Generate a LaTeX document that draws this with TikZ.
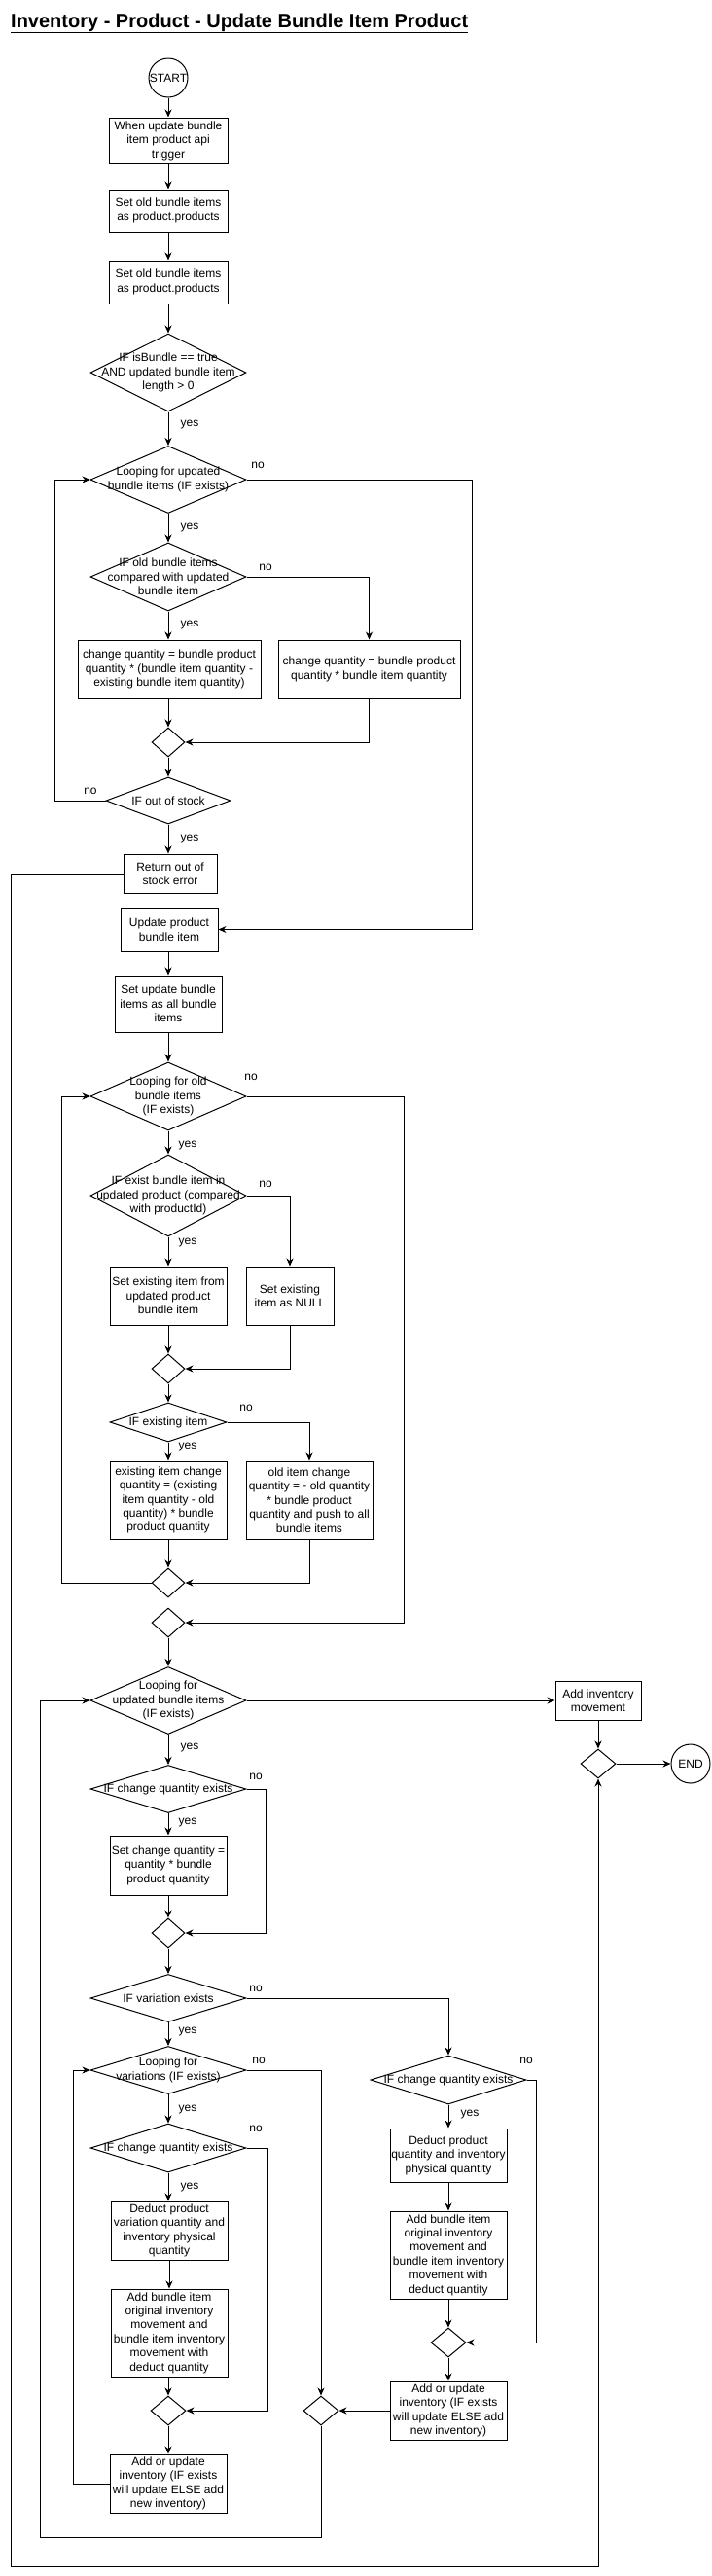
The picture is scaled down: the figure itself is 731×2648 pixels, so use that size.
\documentclass[tikz,border=0pt]{standalone}
\usepackage{fontspec}
\setmainfont{Liberation Sans}
\usetikzlibrary{shapes.geometric,arrows.meta}
\begin{document}
\begin{tikzpicture}[x=1pt,y=-1pt,
 every node/.style={font=\fontsize{12}{14.4}\selectfont},
 box/.style={draw, line width=1pt, inner sep=0pt, align=center, fill=white},
 dia/.style={draw, diamond, line width=1pt, inner sep=0pt},
 circ/.style={draw, circle, line width=1pt, inner sep=0pt, minimum size=40pt},
 txt/.style={align=center, inner sep=0pt},
 lbl/.style={inner sep=0pt},
 arr/.style={line width=1pt, -{Stealth[length=8pt,width=7pt]}},
 ln/.style={line width=1pt}]
\useasboundingbox (0,0) rectangle (731,2648);
% title
\node[anchor=base west, inner sep=0pt, font=\fontsize{20}{24}\selectfont\bfseries] (title) at (11,28) {\underline{Inventory - Product - Update Bundle Item Product}};
% helper coordinates
\coordinate (xA) at (485,0);
\coordinate (xB) at (56,0);
\coordinate (xC) at (11,0);
\coordinate (yC) at (0,2638);
\coordinate (xD) at (415,0);
\coordinate (xE) at (63,0);
\coordinate (xF) at (273,0);
\coordinate (xG) at (330,0);
\coordinate (xH) at (275,0);
\coordinate (xI) at (75,0);
\coordinate (xJ) at (551,0);
\coordinate (xK) at (41,0);
\coordinate (yK) at (0,2608);
% top part
\node[circ] (start) at (173,80) {START};
\node[box, minimum width=122pt, minimum height=47pt] (b1) at (173,144.5) {When update bundle\\item product api\\trigger};
\node[box, minimum width=122pt, minimum height=43pt] (b2) at (173,216.5) {Set old bundle items\\as product.products};
\node[box, minimum width=122pt, minimum height=44pt] (b3) at (173,290) {Set old bundle items\\as product.products};
\node[dia, minimum width=160pt, minimum height=80pt] (d1) at (173,383) {};
\node[txt] (d1t) at (d1) {IF isBundle == true\\AND updated bundle item\\length > 0};
\node[dia, minimum width=160pt, minimum height=69pt] (d2) at (173,493) {};
\node[txt] (d2t) at (d2) {Looping for updated\\bundle items (IF exists)};
\node[dia, minimum width=160pt, minimum height=70pt] (d3) at (173,593) {};
\node[txt] (d3t) at (d3) {IF old bundle items\\compared with updated\\bundle item};
\node[box, minimum width=188pt, minimum height=60pt] (b4) at (174,688) {change quantity = bundle product\\quantity * (bundle item quantity -\\existing bundle item quantity)};
\node[box, minimum width=187pt, minimum height=60pt] (b5) at (379.5,688) {change quantity = bundle product\\quantity * bundle item quantity};
\node[dia, minimum width=34pt, minimum height=30pt] (m1) at (173,763) {};
\node[dia, minimum width=128pt, minimum height=48pt] (d4) at (173,823) {};
\node[txt] (d4t) at (d4) {IF out of stock};
\node[box, minimum width=96pt, minimum height=40pt] (b6) at (175,898) {Return out of\\stock error};
\node[box, minimum width=100pt, minimum height=45pt] (b7) at (174,955.5) {Update product\\bundle item};
\node[box, minimum width=110pt, minimum height=58pt] (b8) at (173,1032) {Set update bundle\\items as all bundle\\items};
% old bundle loop
\node[dia, minimum width=160pt, minimum height=70pt] (d5) at (173,1127) {};
\node[txt] (d5t) at (d5) {Looping for old\\bundle items\\(IF exists)};
\node[dia, minimum width=160pt, minimum height=84pt] (d6) at (173,1229) {};
\node[txt] (d6t) at (d6) {IF exist bundle item in\\updated product (compared\\with productId)};
\node[box, minimum width=120pt, minimum height=60pt] (b9) at (173,1332) {Set existing item from\\updated product\\bundle item};
\node[box, minimum width=90pt, minimum height=60pt] (b10) at (298,1332) {Set existing\\item as NULL};
\node[dia, minimum width=34pt, minimum height=30pt] (m2) at (173,1407) {};
\node[dia, minimum width=120pt, minimum height=40pt] (d7) at (173,1462) {};
\node[txt] (d7t) at (d7) {IF existing item};
\node[box, minimum width=120pt, minimum height=80pt] (b11) at (173,1542) {existing item change\\quantity = (existing\\item quantity - old\\quantity) * bundle\\product quantity};
\node[box, minimum width=130pt, minimum height=80pt] (b12) at (318,1542) {old item change\\quantity = - old quantity\\* bundle product\\quantity and push to all\\bundle items};
\node[dia, minimum width=34pt, minimum height=30pt] (m3) at (173,1627) {};
\node[dia, minimum width=34pt, minimum height=30pt] (m4) at (173,1668) {};
% updated bundle loop
\node[dia, minimum width=160pt, minimum height=69pt] (d8) at (173,1748) {};
\node[txt] (d8t) at (d8) {Looping for\\updated bundle items\\(IF exists)};
\node[box, minimum width=88pt, minimum height=40pt] (b13) at (615,1748) {Add inventory\\movement};
\node[dia, minimum width=36pt, minimum height=30pt] (m5) at (615,1813) {};
\node[circ] (end) at (710,1813) {END};
\node[dia, minimum width=160pt, minimum height=49pt] (d9) at (173,1839) {};
\node[txt] (d9t) at (d9) {IF change quantity exists};
\node[box, minimum width=120pt, minimum height=61pt] (b14) at (173,1917.5) {Set change quantity =\\quantity * bundle\\product quantity};
\node[dia, minimum width=34pt, minimum height=30pt] (m6) at (173,1987) {};
\node[dia, minimum width=160pt, minimum height=49pt] (d10) at (173,2054) {};
\node[txt] (d10t) at (d10) {IF variation exists};
\node[dia, minimum width=160pt, minimum height=49pt] (d11) at (173,2128) {};
\node[txt] (d11t) at (d11) {Looping for\\variations (IF exists)};
\node[dia, minimum width=160pt, minimum height=50pt] (d13) at (173,2208) {};
\node[txt] (d13t) at (d13) {IF change quantity exists};
\node[box, minimum width=120pt, minimum height=60pt] (b18) at (174,2293) {Deduct product\\variation quantity and\\inventory physical\\quantity};
\node[box, minimum width=120pt, minimum height=90pt] (b19) at (174,2398) {Add bundle item\\original inventory\\movement and\\bundle item inventory\\movement with\\deduct quantity};
\node[dia, minimum width=36pt, minimum height=30pt] (m8) at (173,2478) {};
\node[box, minimum width=120pt, minimum height=60pt] (b20) at (173,2553) {Add or update\\inventory (IF exists\\will update ELSE add\\new inventory)};
\node[dia, minimum width=36pt, minimum height=30pt] (m9) at (330,2478) {};
% right branch (no variation)
\node[dia, minimum width=160pt, minimum height=50pt] (d12) at (461,2138) {};
\node[txt] (d12t) at (d12) {IF change quantity exists};
\node[box, minimum width=120pt, minimum height=55pt] (b15) at (461,2215.5) {Deduct product\\quantity and inventory\\physical quantity};
\node[box, minimum width=120pt, minimum height=90pt] (b16) at (461,2318) {Add bundle item\\original inventory\\movement and\\bundle item inventory\\movement with\\deduct quantity};
\node[dia, minimum width=36pt, minimum height=30pt] (m7) at (461,2408) {};
\node[box, minimum width=120pt, minimum height=60pt] (b17) at (461,2478) {Add or update\\inventory (IF exists\\will update ELSE add\\new inventory)};
% labels
\node[lbl] (y1) at (195,437) {yes};
\node[lbl] (y2) at (195,543) {yes};
\node[lbl] (y3) at (195,643) {yes};
\node[lbl] (y4) at (195,863) {yes};
\node[lbl] (y5) at (193,1177) {yes};
\node[lbl] (y6) at (193,1277) {yes};
\node[lbl] (y7) at (193,1487) {yes};
\node[lbl] (y8) at (195,1796) {yes};
\node[lbl] (y9) at (193,1873) {yes};
\node[lbl] (y10) at (193,2088) {yes};
\node[lbl] (y11) at (193,2168) {yes};
\node[lbl] (y12) at (195,2248) {yes};
\node[lbl] (y13) at (483,2173) {yes};
\node[lbl] (n1) at (265,478) {no};
\node[lbl] (n2) at (273,583) {no};
\node[lbl] (n3) at (93,813) {no};
\node[lbl] (n4) at (258,1107) {no};
\node[lbl] (n5) at (273,1217) {no};
\node[lbl] (n6) at (253,1447) {no};
\node[lbl] (n7) at (263,1826) {no};
\node[lbl] (n8) at (263,2044) {no};
\node[lbl] (n9) at (266,2118) {no};
\node[lbl] (n10) at (263,2188) {no};
\node[lbl] (n11) at (541,2118) {no};
% connectors
\draw[arr] (start) -- (b1);
\draw[arr] (b1) -- (b2);
\draw[arr] (b2) -- (b3);
\draw[arr] (b3) -- (d1.north);
\draw[arr] (d1.south) -- (d2.north);
\draw[arr] (d2.south) -- (d3.north);
\draw[arr] (d2.east) -- (d2.east -| xA) |- (b7.east);
\draw[arr] (d3.south) -- (b4.north -| d3.south);
\draw[arr] (d3.east) -| (b5.north);
\draw[arr] (b4.south -| m1.north) -- (m1.north);
\draw[arr] (b5.south) |- (m1.east);
\draw[arr] (m1.south) -- (d4.north);
\draw[arr] (d4.west) -- (d4.west -| xB) |- (d2.west);
\draw[arr] (d4.south) -- (b6.north -| d4.south);
\draw[arr] (b6.west) -- (b6.west -| xC) -- (xC |- yC) -- (m5.south |- yC) -- (m5.south);
\draw[arr] (b7.south -| b8.north) -- (b8.north);
\draw[arr] (b8.south -| d5.north) -- (d5.north);
\draw[arr] (d5.east) -- (d5.east -| xD) |- (m4.east);
\draw[arr] (d5.south) -- (d6.north);
\draw[arr] (d6.south) -- (b9.north);
\draw[arr] (d6.east) -| (b10.north);
\draw[arr] (b9.south) -- (m2.north);
\draw[arr] (b10.south) |- (m2.east);
\draw[arr] (m2.south) -- (d7.north);
\draw[arr] (d7.south) -- (b11.north);
\draw[arr] (d7.east) -| (b12.north);
\draw[arr] (b11.south) -- (m3.north);
\draw[arr] (b12.south) |- (m3.east);
\draw[arr] (m3.west) -- (m3.west -| xE) |- (d5.west);
\draw[arr] (m4.south) -- (d8.north);
\draw[arr] (d8.east) -- (b13.west);
\draw[arr] (b13.south) -- (m5.north);
\draw[arr] (m5.east) -- (end.west);
\draw[arr] (d8.south) -- (d9.north);
\draw[arr] (d9.south) -- (b14.north);
\draw[arr] (d9.east) -- (d9.east -| xF) |- (m6.east);
\draw[arr] (b14.south) -- (m6.north);
\draw[arr] (m6.south) -- (d10.north);
\draw[arr] (d10.south) -- (d11.north);
\draw[arr] (d10.east) -| (d12.north);
\draw[arr] (d11.south) -- (d13.north);
\draw[arr] (d11.east) -| (m9.north);
\draw[arr] (d13.south) -- (b18.north -| d13.south);
\draw[arr] (d13.east) -- (d13.east -| xH) |- (m8.east);
\draw[arr] (b18.south) -- (b19.north);
\draw[arr] (b19.south -| m8.north) -- (m8.north);
\draw[arr] (m8.south) -- (b20.north);
\draw[arr] (b20.west) -- (b20.west -| xI) |- (d11.west);
\draw[arr] (d12.south) -- (b15.north);
\draw[arr] (d12.east) -- (d12.east -| xJ) |- (m7.east);
\draw[arr] (b15.south) -- (b16.north);
\draw[arr] (b16.south) -- (m7.north);
\draw[arr] (m7.south) -- (b17.north);
\draw[arr] (b17.west) -- (m9.east);
\draw[arr] (m9.south) -- (m9.south |- yK) -- (xK |- yK) |- (d8.west);
\end{tikzpicture}
\end{document}
